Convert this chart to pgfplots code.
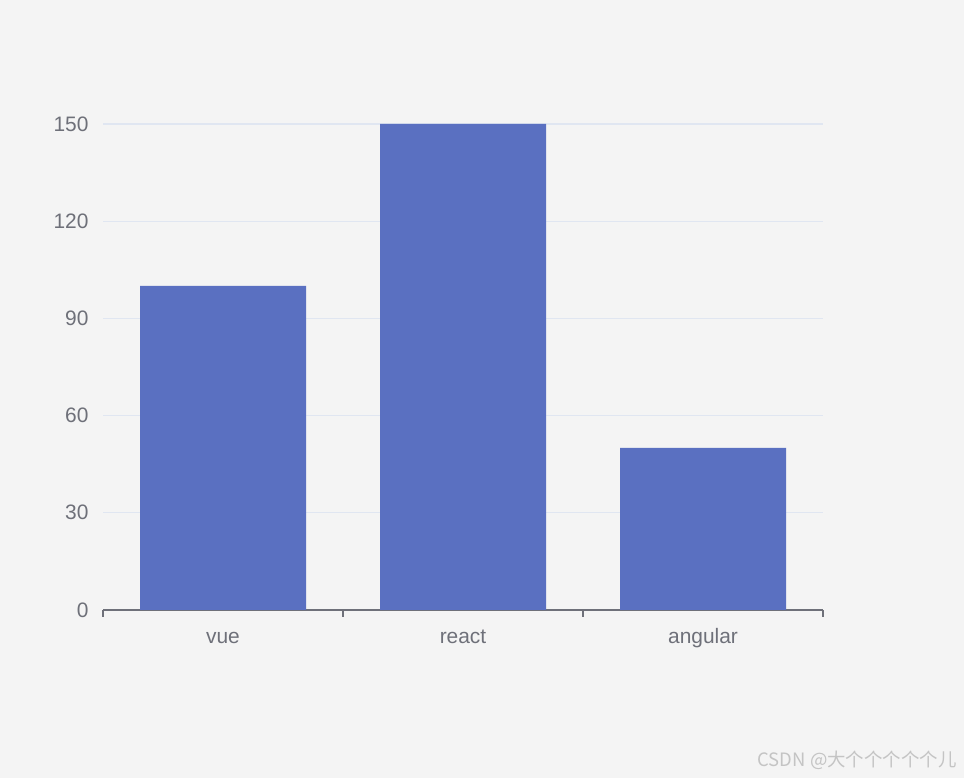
\documentclass[border=0pt]{standalone}
\usepackage{pgfplots}
\pgfplotsset{compat=1.18}
\usepackage{fontspec}
\setmainfont{Liberation Sans}
\newfontfamily\cjk{Noto Sans CJK SC}
\definecolor{bgc}{HTML}{F4F4F4}
\definecolor{barc}{HTML}{5A70C1}
\definecolor{gridc}{HTML}{E0E6F1}
\definecolor{axc}{HTML}{6E7079}
\definecolor{wmc}{HTML}{C4C4C4}
\begin{document}
\begin{tikzpicture}[x=1bp,y=1bp]
\fill[bgc] (0,0) rectangle (964,778);
\begin{axis}[
  at={(103bp,168bp)}, anchor=south west,
  scale only axis, width=720bp, height=486bp,
  xmin=-0.5, xmax=2.5, ymin=0, ymax=150,
  ytick={0,30,60,90,120,150},
  xtick={0,1,2}, xticklabels={vue,react,angular},
  axis x line*=bottom, axis y line*=left,
  x axis line style={draw=axc, line width=1.2bp, -},
  y axis line style={draw=none},
  ymajorgrids, grid style={draw=gridc, line width=1.2bp},
  major x tick style={draw=none},
  ytick style={draw=none},
  extra x ticks={-0.5,0.5,1.5,2.5}, extra x tick labels={},
  extra x tick style={major tick length=7bp, tick align=outside, xmajorgrids=false,
     major x tick style={draw=axc, line width=1.2bp}},
  tick label style={font=\fontsize{21}{24}\selectfont, text=axc},
  /pgf/number format/assume math mode=true,
  yticklabel style={xshift=-11bp},
  xticklabel style={anchor=base, yshift=-29bp},
  ybar, bar width=166bp,
  enlarge x limits=false,
  clip=false,
]
\addplot[fill=barc, draw=none] coordinates {(0,100) (1,150) (2,50)};
\end{axis}
\node[anchor=base east, text=wmc, font=\cjk\fontsize{18.5}{20}\selectfont] at (960,11) {CSDN @大个个个个个儿};
\end{tikzpicture}
\end{document}
